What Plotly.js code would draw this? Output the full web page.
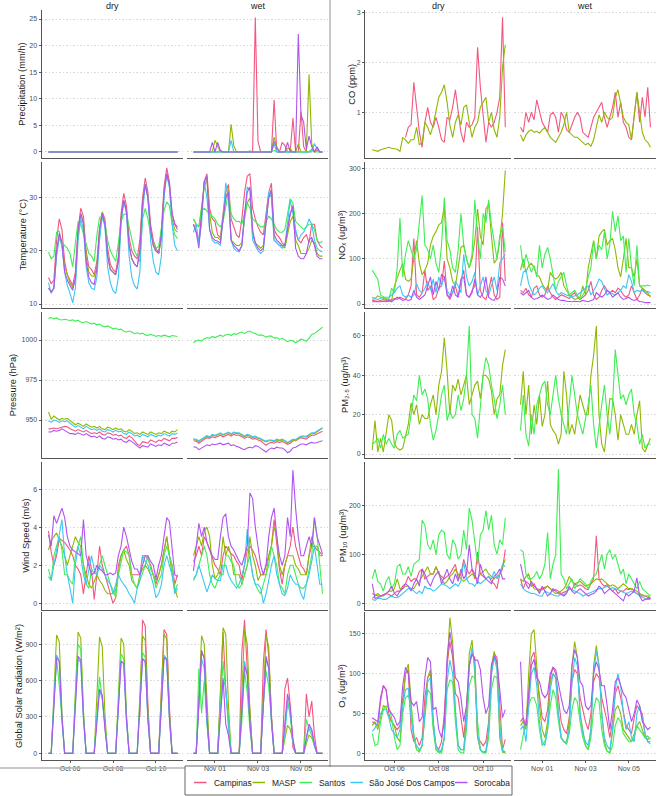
<!DOCTYPE html>
<html><head><meta charset="utf-8">
<script src="https://cdn.plot.ly/plotly-3.0.1.min.js"></script>
<style>html,body{margin:0;padding:0;background:#fff}#chart{width:661px;height:796px}</style>
</head><body><div id="chart"></div>
<script>
// ---------------- DATA ----------------
const stations = ["Campinas","MASP","Santos","São José Dos Campos","Sorocaba"];
const stationColors = ["#F2577F","#8FB803","#3FEE55","#3EC6F2","#B054F0"];
const periods = ["dry","wet"];
const dryTickVals = ["2019-10-06","2019-10-08","2019-10-10"];
const dryTickText = ["Oct 06","Oct 08","Oct 10"];
const wetTickVals = ["2019-11-01","2019-11-03","2019-11-05"];
const wetTickText = ["Nov 01","Nov 03","Nov 05"];

const dryTimes = [
"2019-10-05 00:00","2019-10-05 03:00","2019-10-05 06:00","2019-10-05 09:00","2019-10-05 12:00","2019-10-05 15:00","2019-10-05 18:00","2019-10-05 21:00",
"2019-10-06 00:00","2019-10-06 03:00","2019-10-06 06:00","2019-10-06 09:00","2019-10-06 12:00","2019-10-06 15:00","2019-10-06 18:00","2019-10-06 21:00",
"2019-10-07 00:00","2019-10-07 03:00","2019-10-07 06:00","2019-10-07 09:00","2019-10-07 12:00","2019-10-07 15:00","2019-10-07 18:00","2019-10-07 21:00",
"2019-10-08 00:00","2019-10-08 03:00","2019-10-08 06:00","2019-10-08 09:00","2019-10-08 12:00","2019-10-08 15:00","2019-10-08 18:00","2019-10-08 21:00",
"2019-10-09 00:00","2019-10-09 03:00","2019-10-09 06:00","2019-10-09 09:00","2019-10-09 12:00","2019-10-09 15:00","2019-10-09 18:00","2019-10-09 21:00",
"2019-10-10 00:00","2019-10-10 03:00","2019-10-10 06:00","2019-10-10 09:00","2019-10-10 12:00","2019-10-10 15:00","2019-10-10 18:00","2019-10-10 21:00",
"2019-10-11 00:00"];
const wetTimes = [
"2019-10-31 00:00","2019-10-31 03:00","2019-10-31 06:00","2019-10-31 09:00","2019-10-31 12:00","2019-10-31 15:00","2019-10-31 18:00","2019-10-31 21:00",
"2019-11-01 00:00","2019-11-01 03:00","2019-11-01 06:00","2019-11-01 09:00","2019-11-01 12:00","2019-11-01 15:00","2019-11-01 18:00","2019-11-01 21:00",
"2019-11-02 00:00","2019-11-02 03:00","2019-11-02 06:00","2019-11-02 09:00","2019-11-02 12:00","2019-11-02 15:00","2019-11-02 18:00","2019-11-02 21:00",
"2019-11-03 00:00","2019-11-03 03:00","2019-11-03 06:00","2019-11-03 09:00","2019-11-03 12:00","2019-11-03 15:00","2019-11-03 18:00","2019-11-03 21:00",
"2019-11-04 00:00","2019-11-04 03:00","2019-11-04 06:00","2019-11-04 09:00","2019-11-04 12:00","2019-11-04 15:00","2019-11-04 18:00","2019-11-04 21:00",
"2019-11-05 00:00","2019-11-05 03:00","2019-11-05 06:00","2019-11-05 09:00","2019-11-05 12:00","2019-11-05 15:00","2019-11-05 18:00","2019-11-05 21:00",
"2019-11-06 00:00"];

// Precipitation (mm/h)
const precipDryAll = [0,0,0,0,0,0,0,0,0, 0,0,0,0,0,0,0,0, 0,0,0,0,0,0,0,0, 0,0,0,0,0,0,0,0, 0,0,0,0,0,0,0,0, 0,0,0,0,0,0,0,0];
const precipWetCAM = [0,0,0,0,0,0,0,0,0, 0,0.3,0,0,0,0,0,0, 0,0,0,0,0,0,25.3,2, 0,0,0,0,0,9.8,0,0, 1.8,1.2,0,0,6.4,0,0,7.6, 1,0,0,0.5,0,0.3,0,0];
const precipWetMASP = [0,0,0,0,0,0,0,0,2.2, 1.2,0,0,0,0,5.2,1.2,0, 0,0,0,0,0,0,0,0, 0,0,0,0,0,2.8,1,0, 0,0,0.7,0.6,0,0,1.5,0, 0,0,14.6,1.5,0,0.8,0,0];
const precipWetSAN = [0,0,0,0,0,0,0,0,0, 0,0,0,0,0,0,0,0, 0,0,0,0,0,0,0,0, 0,0,0,0,0,0.3,0,0, 0,0,0,0,0,0,0,0, 0,0,0,0.4,0,0,0,0];
const precipWetSJC = [0,0,0,0,0,0,0,0,0, 0,0,0,0,0,2.2,0,0, 0,0,0,0,0.2,0,0,0, 0,0,0,0,0,1.5,0,0, 0,0,0,0,0,0,0,0, 0,0,0,0,1.6,0.5,0,0];
const precipWetSOR = [0,0,0,0,0,0,0,1.8,0, 1.8,0.3,0,0,0,0,0,0, 0,0,0,0,0,0,0,0, 0,0,0,0,0,2,0.8,0, 0,0,1.8,0,0,0,22.2,7, 5.6,0.5,3,1,0,1,0,0];

// Temperature (°C)
const tempDryCAM = [15,13.8,14.5,22,26,24,18,15.5,14.5, 13.5,16,24,28,26.5,20,17,16.5, 15.5,18,24,27.3,26,20.5,17.5,16.5, 16,19,27,30.8,28.5,22.5,20,19, 18.5,22,30,33.7,31,25,22,20.5, 19.5,24,32,35.6,33,27,25,24.5];
const tempDryMASP = [13,12.3,13,19.5,23,21,17,15.5,14, 13,14.5,23,27,25.5,19,16,15.3, 15.2,17,24,27.3,25,19,16.5,16, 15.5,18,26,29.5,27.5,21,18.5,17.5, 17,20,29,32.5,30,24,21,20, 19.5,22,31,34.5,32,26,24,23.5];
const tempDrySAN = [19.8,18.5,19,23.5,23.7,21.5,21,20.5,19.5, 17,21.5,25.5,25,23,21,19.5,19, 18,23,26.3,26.5,25,22,20,19, 18,21.5,25.5,26.8,27,24.5,22,20, 19,18,26,28,26,23,21.5,20.5, 20.8,24,27.5,29.2,28.5,25,23,22.3];
const tempDrySJC = [14,12,13,19,22.5,21,16,13.5,12, 10.2,13,22,26,24,17,14,13, 12.7,15,22,26.5,24.5,17,14,12.5, 12,15,25,29.5,27,19,15,13.5, 12.8,16,27,32.5,30,22,18,16, 15.5,19,30,34.5,32,25,21,20];
const tempDrySOR = [13,12.2,13,20,23.3,21.5,16,14.5,13.5, 12.6,15,24,27,25,18,15,14, 13.7,16.5,24,27,25,19,16.5,16, 15.5,18,26,29.5,27.5,21,18.5,17.5, 17,20,29,32.5,30,24,21,20, 19.5,23,31,34.5,32.5,27,25,24];
const tempWetCAM = [25,23.5,22,27,33,34.5,28,26,25.5, 23,22.5,27,31,32.5,26,24.5,23, 22.5,26,31,34,34.5,28,26,24.5, 23.5,23,27,31,32.7,24,23,22.5, 21.5,21,24,27,28,23.5,22,21.5, 22.5,23,21.5,25,25,22,21,20.5];
const tempWetMASP = [26,25,24.5,28,32,33.5,27,23.5,22.5, 22.5,22,26,30,31.5,22,21.5,21, 21,21.5,26,29,30,23,21.5,21, 20.5,21,26,30,31.5,22,21.5,21, 21,20.5,23,25.5,26.5,22,21,19.5, 19.5,19.5,20.5,22,21.5,19.5,19,19];
const tempWetSAN = [26,25,24.5,27.5,28,27.5,27,26.5,26, 25,24.5,25.5,28,31,27,26,25.5, 25.5,25,27,29,28,26,25.5,25, 24.5,24.5,25.5,26.5,26,25,24,23.5, 23.5,24,27,29.8,29,25.5,25,24.5, 24,24.5,25,25,24,22,21.5,21.8];
const tempWetSJC = [23.5,25,21.5,25,33,30,24,22,21.5, 21.5,21,26,32.8,30,22,20.5,20, 19.8,21,27,32,31.5,22,21,20, 19.5,20,26,31,30,22,21.5,21, 20.5,21,25,29.5,27,24,22,23, 23.5,24.5,26,25,22,20.5,20,19.8];
const tempWetSOR = [25,23.5,20.5,26,33,34,24,22.5,22, 21.8,21.5,26,30,31,22,21,20.5, 20,21,27,31,32,24,21.5,20.5, 20,20.5,26,30,31.5,23,22,21.5, 21,21,24,27,28.5,20.5,19,18.5, 18.5,19.5,22,22.5,21,19,18.5,18.5];

// Pressure (hPa)
const presDryCAM = [944.3,944.5,945,944.5,944.8,945.5,946,945.8,944.5, 943.5,943,944,943,942.5,943.5,942.5,941.5, 942,941.5,942.5,941,940.5,942,941.5,940.5, 941,940,940.5,939,938.5,940,939,937, 935,934,936.5,936,935.5,937.5,936.5,936, 937.5,937,938.5,937.5,937,938.5,938.5,939];
const presDryMASP = [955,950.5,952.5,951.5,950,951,950.5,951,949.5, 948.5,947,948,947,946,947.5,946.5,945.5, 946,945,946,944.5,944,945.5,945,944, 945,944,944.5,943,942.5,944,943,941.5, 942,941,942.5,941.5,941,942.5,941.5,941, 942,941.5,943,942,941.5,943,942.5,944];
const presDrySAN = [1013.5,1014,1013.2,1013.8,1012.8,1012.5,1013,1012.6,1012.2, 1012.6,1011.8,1012.3,1011.2,1010.8,1011.5,1010.8,1010, 1010.5,1009.5,1010,1008.8,1008.2,1008.8,1008,1007, 1007.5,1006.5,1006.8,1005.5,1005,1005.6,1005,1004, 1004.5,1003.8,1004.3,1003.2,1002.8,1003.5,1003,1002.3, 1002.8,1002.3,1003,1002.5,1002,1002.8,1002.6,1002.2];
const presDrySJC = [949.5,948.5,950,949.5,948.5,949.5,949,949.5,948, 947,945.5,946.5,945.5,944.5,946,945,944, 944.5,943.5,944.5,943,942.5,944,943.5,942.5, 943.5,942.5,943,941.5,941,942.5,941.5,940, 940.5,939.5,941,940,939.5,941,940,939.5, 940.5,940,941.5,940.5,940,941.5,941,941.8];
const presDrySOR = [942.6,942.5,943.5,943,943.5,944.5,943.5,942.5,941.5, 941.5,941,942,941,940.5,941.5,940.5,939.5, 940,939,940,938.5,938,939.5,939,938, 938.5,937.5,938,936.5,936,937.5,936.5,935, 933.5,932.5,934,933.5,933,935,934,933.5, 934.5,934,935.5,934.5,934,935.5,935.5,936.3];
const presWetCAM = [937,936.8,935.5,936.8,938,939,938.5,939.5,939, 940,940.5,939.5,940.5,941,940,941,940.5, 940.5,939.5,938.5,939.5,939,938,938.5,937.5, 937,935.5,934.2,935.5,936,935.5,936.5,936, 936.5,935.8,934.8,935.5,937,937,938,939, 938.5,938,939.5,940.5,940.5,941.5,942.5,943];
const presWetMASP = [937.8,937.5,936.5,937.5,939,939.8,939,940.5,940, 941,941.5,940.5,941.5,942,941,942,941.5, 941.5,940.5,939.5,940.5,940,939,939.5,938.5, 938,937,936.3,937,937.2,936.5,937.5,937, 937.5,936.8,935.5,936.5,937.5,937.2,938.5,939.5, 939.5,939.2,940.5,941.5,941.5,942.5,944,945];
const presWetSAN = [998.3,999.5,1000,999.3,1000.8,1001.5,1001,1002.2,1001.5, 1002.5,1003,1002.2,1003.2,1003.6,1002.8,1004,1003.5, 1004.5,1005,1004,1005.2,1005.6,1004.5,1004,1003, 1003.2,1002.8,1001.8,1002.5,1002.4,1001.2,1001.5,1000.5, 1001,1000.2,999,999.8,999.5,998.3,999.5,1000.5, 1000,999.2,1001,1003.5,1004,1005.5,1007,1008];
const presWetSJC = [938.2,938,937,938,939.5,940.2,939.5,941,940.5, 941.5,942,941,942,942.5,941.5,942.5,942, 942,941,940,941,940.5,939.5,940,939, 938.5,937.5,936.8,937.5,937.5,937,938,937.5, 938,937.2,936,937,938,937.8,939,940, 940,939.8,941,942,942,943,944.5,945.2];
const presWetSOR = [933.2,933,931.5,932.5,934,934.5,934,935,934.5, 935,935.5,934.5,935,935.5,934,934.5,933.5, 933,932,931.5,932.5,933,932.5,934,933.5, 932.5,931,930,931.5,932.5,932,933,932.5, 932.5,931.5,929.5,930.5,932.5,933,934,935, 935,934.5,935.5,936,935.5,936,936.5,937];

// Wind speed (m/s)
const windDryCAM = [3.8,2.7,2,2.5,3.4,3.3,3.2,3,2.8, 2.5,2,1.8,1.5,0.5,1.5,2.5,1.8, 0.2,1.5,3,2,1.5,1,0.5,0, 0.3,2,2.5,2.8,3,2.5,1.5,1.5, 1.5,1.5,2.5,2.5,2.3,2,1.5,1, 1.5,2,2.8,3.5,2.5,2,1,1.5];
const windDryMASP = [2.8,3.3,3.5,3.7,3.3,3,2.5,2,2.5, 3,3.5,3.2,3,2,1.5,1,0.8, 1.2,1.5,1.2,1,0.7,0.5,0.5,0.5, 0.7,1.5,2.5,2.8,2.3,2,1.2,1, 0.8,1.5,1.8,2,1.8,1.5,1.5,1.2, 1.5,2,2.8,3.5,2.5,1.5,0.8,0.3];
const windDrySAN = [1.8,1.2,2.5,3,3.5,2.8,1.5,1.5,1.2, 1,2.5,3,3.5,2,1,0.8,1.8, 1.6,1.5,2,2.5,2,1.5,1,0.7, 0.3,1.5,2.2,2.8,2.7,2.5,1.5,1, 0.8,1.2,1.5,2,2.5,1.8,1.5,0.8, 1.2,1.5,2.5,3,2.5,2,0.6,1];
const windDrySJC = [1.4,1.2,2,2.8,3.5,4.4,2.5,1.5,0.8, 0,2,3,2.5,1.5,1,1.8,2.5, 1.8,1.5,2,1.8,1.5,1.2,1,0.5, 1,1.5,1.2,1,0.8,0.5,0.3,0, 0.8,1.2,2.5,2.2,2,1.5,1,0.3, 0.5,1,2,2.5,2,1.5,0.5,0.8];
const windDrySOR = [3.6,3,4.6,4.2,4.6,5,4.5,3.5,3, 2.8,2.7,2.6,2.5,4.4,2.5,2,1.5, 1.6,2,1.8,1.7,1.5,1.5,1.6,1.5, 1.6,2.5,3,4,3.5,2.8,2.2,1.8, 1.8,1.5,2,2.5,2.5,2.2,2,1.3, 2,2.5,3.5,4.5,4.3,3,1.5,1.4];
const windWetCAM = [2.2,2.5,3,2.5,3.5,3.2,2.8,2.4,2, 1.8,1.5,2.5,3,2.8,2.6,2.5,2.2, 2,1.2,2,2.8,3,2.8,2.5,2, 1.5,1.5,2,2.5,3,4.4,3,1.8, 1,2,2.5,3,4,3,2.5,2, 1.8,1.5,2.5,3,3,2.8,2.7,2.5];
const windWetMASP = [2.5,3,3.5,3,3.8,4,3.5,2,1.3, 1.5,2,3.5,2.5,3,2.5,1.5,1.5, 1.5,1,1.5,2,3.5,2.5,2,1.2, 1.5,1.5,1.5,2.5,3,4,3.5,2, 1.5,2,2.5,2.5,2.5,2,1.8,1.5, 1.5,1.5,2.5,3.5,3,3,2.5,2.5];
const windWetSAN = [1.2,1.5,2,2.5,3,2.5,1.5,1,0.8, 1.2,1.5,1.5,2.5,2.5,2.2,2,1, 0.8,1,1.5,2,2.5,1.5,1,0.7, 0.5,1,1.5,2,3,2.5,2,1, 0.8,0.5,1.5,2,2,1.5,1,0.8, 0.8,1,1.8,2.5,4.5,3.5,2,0.5];
const windWetSJC = [1.3,1.5,2,1.5,1,0.6,1,1.5,1.3, 1.2,1.2,2,2,1.5,1.2,1,0.8, 1,1.5,2,3.9,2.5,1.5,1,1, 0.8,0,0.5,1.2,2,2.5,1.5,1, 0.5,0.4,0.8,1.5,1.2,1,1,0.5, 0.2,1,1.5,2.2,3,2,1,1];
const windWetSOR = [1.7,2.8,4.2,3.5,4,3.2,2.8,2.5,2.3, 2.3,3.5,4.5,4.7,3.5,3,2.8,2.5, 2.2,2,2.5,3,5.8,5.5,4,3, 2,1.5,2,3.5,4.5,5,3.5,2.5, 2,2.5,4.5,3.5,7,5,3.5,2.5, 2.5,3,3.5,3,4.5,3.5,3,2.6];

// Global solar radiation (W/m2)
const radDryCAM = [null,null,null,null,null,null,null,null, null,null,null,null,null,null,null,null, null,null,null,null,null,null,null,null, null,null,null,null,null,null,null,null, null,null,300,1100,1050,400,0,0, 0,0,520,1020,980,380,0,0, 0];
const radDryMASP = [0,0,480,975,920,330,0,0, 0,0,500,1000,950,350,0,0, 0,0,470,960,880,320,0,0, 0,0,470,950,900,330,0,0, 0,0,480,970,930,340,0,0, 0,0,490,985,940,330,0,0, 0];
const radDrySAN = [0,0,400,780,560,280,0,0, 0,0,450,900,860,320,0,0, 0,0,320,630,450,220,0,0, 0,0,400,820,780,300,0,0, 0,0,410,830,790,290,0,0, 0,0,400,810,780,300,0,0, 0];
const radDrySJC = [0,0,420,810,760,280,0,0, 0,0,400,780,750,280,0,0, 0,0,300,520,450,200,0,0, 0,0,380,760,740,270,0,0, 0,0,390,780,750,270,0,0, 0,0,400,800,770,280,0,0, 0];
const radDrySOR = [0,0,380,790,760,290,0,0, 0,0,390,800,770,300,0,0, 0,0,245,530,480,200,0,0, 0,0,370,760,740,280,0,0, 0,0,380,780,760,290,0,0, 0,0,390,790,770,300,0,0, 0];
const radWetCAM = [0,0,400,820,800,300,0,0, 0,0,480,1000,530,250,0,0, 0,0,840,1100,700,300,0,0, 0,0,750,1020,800,320,0,0, 0,0,530,620,400,50,0,0, 0,0,490,300,430,150,0,0, 0];
const radWetMASP = [0,0,450,970,900,380,0,0, 0,0,500,1035,980,400,0,0, 0,0,480,1020,900,350,0,0, 0,0,460,970,880,300,0,0, 0,0,120,230,200,100,0,0, 0,0,80,150,130,60,0,0, 0];
const radWetSAN = [0,0,700,330,600,250,0,0, 0,0,400,760,500,300,0,0, 0,0,260,680,500,200,0,0, 0,0,400,680,550,250,0,0, 0,0,150,450,300,100,0,0, 0,0,280,200,150,60,0,0, 0];
const radWetSJC = [0,0,400,780,700,250,0,0, 0,0,320,600,550,200,0,0, 0,0,380,760,650,250,0,0, 0,0,400,780,700,250,0,0, 0,0,200,400,350,100,0,0, 0,0,120,220,180,60,0,0, 0];
const radWetSOR = [0,0,420,850,780,300,0,0, 0,0,300,620,240,150,0,0, 0,0,350,720,650,250,0,0, 0,0,400,800,700,280,0,0, 0,0,250,490,380,120,0,0, 0,0,130,240,200,80,0,0, 0];

// CO (ppm)
const coDryCAM = [null,null,null,null,null,null,null,null,null, null,null,null,0.5,0.7,0.75,1.6,1.1, 0.6,0.3,0.8,1.1,0.8,0.7,0.9,0.7, 0.45,0.4,0.9,0.85,1.1,1.45,1.0,0.6, 0.4,0.8,0.7,0.75,0.9,2.3,1.5,0.9, 0.4,0.8,0.7,0.8,1.0,1.3,2.9,0.7];
const coDryMASP = [0.25,0.23,0.22,0.25,0.27,0.28,0.3,0.28,0.27, 0.26,0.22,0.5,0.45,0.38,0.45,0.45,0.7, 0.35,0.4,0.8,0.7,0.55,0.75,1.0,1.3, 1.4,1.55,1.2,0.75,0.5,0.8,0.95,0.75, 1.1,1.15,0.8,0.5,0.7,0.8,1.1,1.2, 1.3,0.8,1.0,0.65,0.5,0.9,1.9,2.35];
const coWetCAM = [0.7,0.6,1.0,0.8,1.0,0.85,1.25,1.0,0.8, 0.7,0.6,0.95,1.0,0.9,0.6,1.0,0.9, 0.65,0.6,0.75,0.9,1.0,0.9,0.6,0.55, 0.5,0.7,0.9,1.0,1.1,1.2,0.9,0.7, 0.9,1.1,1.4,0.9,1.2,0.8,0.7,0.5, 0.45,0.9,1.4,0.8,1.3,0.9,1.5,0.7];
const coWetMASP = [0.55,0.42,0.55,0.62,0.65,0.6,0.62,0.58,0.65, 0.7,0.6,0.5,0.45,0.4,0.5,0.6,0.75, 1.0,0.6,0.55,0.5,0.5,0.45,0.4,0.35, 0.38,0.32,0.45,0.7,0.95,0.8,1.0,0.9, 0.85,0.9,1.3,1.45,1.2,0.9,0.8,0.75, 0.45,0.9,1.4,1.0,0.6,0.45,0.4,0.3];

// NOx (ug/m3)
const noxDryCAM = [8,7,6,8,10,8,6,10,12, 10,15,12,10,20,40,145,20, 15,25,75,30,40,10,15,35, 40,95,20,10,25,40,15,50, 75,20,15,30,40,170,30,15, 10,30,60,20,10,15,180,50];
const noxDryMASP = [15,12,18,15,12,10,10,8,40, 60,75,90,55,50,55,100,140, 90,65,75,90,130,150,160,175, 180,215,100,80,50,40,80,125, 130,100,80,100,140,210,150,130, 210,220,150,90,100,140,200,295];
const noxDrySAN = [75,65,55,20,15,12,10,35,25, 80,190,60,110,140,120,100,120, 175,240,130,120,100,130,90,70, 130,235,140,120,80,70,120,200, 130,100,80,110,230,150,100,200, 180,230,175,140,100,150,170,115];
const noxDrySJC = [10,12,10,12,15,15,15,20,25, 35,40,20,15,20,15,20,45, 30,25,35,50,30,55,25,60, 40,60,30,20,25,50,40,25, 110,60,40,50,70,20,40,60, 30,20,40,60,30,90,100,110];
const noxDrySOR = [5,5,4,5,6,5,8,5,10, 15,12,8,10,8,10,30,15, 10,15,20,40,60,20,50,30, 65,60,20,15,40,20,15,55, 60,20,15,25,55,20,15,25, 60,15,10,8,20,60,55,40];
const noxWetCAM = [30,25,35,20,15,35,40,20,15, 20,40,25,15,10,15,20,18, 15,12,20,25,15,10,15,20, 30,50,20,10,15,30,40,30, 25,30,25,35,30,20,15,20, 40,25,10,20,35,25,20,18];
const noxWetMASP = [75,100,70,85,90,80,65,60,45, 35,30,70,60,55,60,70,40, 30,20,15,10,12,15,40,20, 80,110,140,100,150,160,165,130, 140,145,120,80,60,100,145,80, 80,60,100,40,35,30,25,15];
const noxWetSAN = [130,80,110,90,70,85,60,130,80, 110,125,100,60,30,50,60,70, 40,20,25,30,20,10,20,30, 60,80,140,100,130,120,160,100, 130,205,160,195,140,150,70,145, 80,40,130,40,40,40,42,40];
const noxWetSJC = [40,70,75,45,30,20,25,35,40, 30,25,35,45,30,20,25,22, 20,18,15,18,20,25,30,35, 40,20,30,40,55,50,35,20, 25,22,20,25,30,40,35,65, 50,25,30,28,30,25,28,25];
const noxWetSOR = [25,20,25,30,15,10,12,15,20, 15,10,12,20,15,10,8,8, 6,5,5,6,5,5,8,6, 5,8,10,25,20,15,20,30, 25,15,20,25,15,10,12,15, 10,8,10,5,5,3,3,3];

// PM2.5 (ug/m3)
const pm25DryMASP = [2,17,1,8,1,12,20,17,5, 3,2,3,9,15,26,20,25, 15,20,18,18,25,30,20,35, 42,59,42,20,35,32,38,30, 35,40,25,30,35,37,28,40, 40,38,32,20,28,30,45,53];
const pm25DrySAN = [5,6,8,3,10,5,8,5,3, 10,12,8,9,10,20,30,27, 40,30,33,28,15,7,12,20, 30,35,17,22,18,20,30,22, 28,40,65,20,18,8,25,40, 49,45,35,28,18,25,35,20];
const pm25WetMASP = [25,42,20,35,10,25,15,30,14, 20,37,15,12,10,5,10,42, 30,10,15,10,20,30,25,20, 20,40,50,65,20,5,1,15, 28,28,20,7,20,15,10,10, 15,10,20,27,3,1,5,8];
const pm25WetSAN = [12,30,10,4,20,10,25,30,35, 37,25,20,30,40,28,20,15, 10,25,40,30,20,15,10,18, 25,35,15,3,15,25,35,20, 10,25,53,40,28,30,25,30, 33,20,15,5,10,3,5,5];

// PM10 (ug/m3)
const pm10DryCAM = [20,18,15,15,18,20,18,15,20, 25,25,35,40,55,45,50,50, 65,70,50,55,60,60,75,60, 55,50,55,60,70,80,50,60, 90,70,60,70,50,105,60,55, 50,55,45,40,30,60,70,110];
const pm10DryMASP = [10,15,20,15,15,20,25,25,30, 50,30,30,35,35,30,30,40, 45,55,65,75,60,60,75,60, 50,40,45,55,60,70,60,50, 45,50,55,60,55,50,60,65, 70,60,55,50,55,60,75,90];
const pm10DrySAN = [50,70,45,40,25,45,55,30,40, 75,80,60,60,75,55,80,85, 90,170,160,120,110,130,100,140, 150,145,100,90,130,120,90,100, 150,110,195,170,120,80,140,150, 190,150,180,120,100,130,120,175];
const pm10DrySJC = [8,6,10,10,8,8,12,15,12, 12,15,20,25,30,30,25,20, 25,20,35,30,30,25,28,35, 40,38,35,30,35,40,35,45, 85,50,40,40,35,45,40,45, 50,55,50,65,50,60,80,75];
const pm10DrySOR = [40,10,12,15,18,20,25,35,20, 15,25,30,40,35,25,40,50, 35,70,60,45,35,50,60,65, 40,55,70,50,40,60,45,70, 50,60,120,70,60,40,80,60, 50,45,40,55,60,70,50,50];
const pm10WetCAM = [50,30,45,40,35,40,30,28,30, 32,35,30,25,28,25,20,22, 25,30,28,40,35,38,35,30, 28,40,50,138,50,40,35,38, 30,25,30,20,25,25,30,28, 30,25,20,18,15,15,12,10];
const pm10WetMASP = [50,45,55,60,40,30,28,25,28, 30,35,30,25,20,22,25,30, 40,55,45,40,42,45,40,35, 38,40,45,50,48,50,45,40, 35,38,35,30,35,40,35,30, 30,28,25,20,18,15,15,12];
const pm10WetSAN = [110,105,60,50,50,55,65,50,60, 80,145,50,80,100,275,60,50, 30,40,50,30,40,50,45,40, 30,45,55,60,80,100,70,100, 110,90,100,80,60,70,40,60, 50,40,30,45,30,25,20,15];
const pm10WetSJC = [40,30,25,22,20,20,18,15,15, 25,22,20,18,15,15,20,18, 22,30,28,25,22,20,15,18, 20,22,25,28,30,30,32,35, 30,32,30,28,25,22,20,22, 25,22,20,15,12,10,8,8];
const pm10WetSOR = [80,55,40,30,45,35,30,20,35, 25,15,20,30,25,20,18,15, 20,35,25,20,25,30,25,20, 15,18,20,25,35,30,20,25, 30,25,20,15,10,5,20,15, 20,25,52,15,5,8,10,10];

// O3 (ug/m3)
const o3DryCAM = [40,38,35,65,85,80,50,40,35, 30,35,70,100,105,30,15,20, 10,20,70,95,100,35,10,5, 15,50,110,140,120,75,70,45, 20,55,110,125,120,20,15,10, 15,40,100,125,120,60,5,18];
const o3DryMASP = [35,40,30,45,60,58,45,40,35, 20,15,60,100,112,70,20,5, 3,10,50,95,105,40,5,2, 3,20,110,170,140,50,10,5, 5,50,125,142,100,20,5,2, 2,30,110,128,110,20,2,1];
const o3DrySAN = [25,10,12,40,55,60,58,45,20, 5,10,50,70,73,60,25,5, 2,10,50,80,75,30,5,1, 1,20,80,92,90,40,5,1, 1,30,85,97,95,40,5,1, 1,20,80,97,95,40,5,2];
const o3DrySJC = [28,32,40,50,55,55,45,30,25, 20,30,60,80,82,45,20,10, 5,10,55,90,95,40,10,3, 5,20,90,117,100,60,10,5, 5,40,110,133,110,25,5,2, 3,30,100,120,105,30,3,2];
const o3DrySOR = [45,43,40,70,85,80,55,50,45, 35,40,85,108,100,65,60,65, 40,45,95,120,115,55,58,30, 20,40,120,152,130,95,90,70, 40,60,110,125,117,117,105,70, 50,60,110,122,115,80,45,55];
const o3WetCAM = [40,45,35,80,120,127,100,70,45, 40,55,95,108,100,70,40,30, 25,45,90,105,100,70,55,40, 30,50,90,100,95,70,55,40, 20,40,75,85,70,50,35,30, 25,45,60,55,50,25,15,15];
const o3WetMASP = [35,40,30,100,150,155,110,60,30, 20,40,90,100,95,50,20,15, 12,40,110,140,120,50,30,10, 5,30,110,135,110,50,15,3, 1,25,55,60,50,30,25,20, 15,25,35,40,30,20,18,20];
const o3WetSAN = [5,25,40,60,70,70,60,30,10, 15,30,60,80,70,40,20,15, 12,25,55,70,65,40,20,10, 5,20,55,70,65,30,10,3, 1,10,35,45,40,25,20,15, 15,20,35,30,25,20,22,18];
const o3WetSJC = [30,35,15,60,100,108,85,40,15, 10,30,80,100,95,50,20,15, 15,30,90,120,110,50,25,15, 10,30,100,128,110,50,20,10, 5,30,80,100,85,50,30,40, 20,15,50,60,45,25,15,12];
const o3WetSOR = [115,40,35,70,110,118,95,90,75, 70,75,100,108,105,85,70,55, 50,60,110,130,120,90,85,60, 55,60,100,115,105,85,85,60, 30,55,90,95,85,75,70,55, 40,50,67,60,40,35,30,33];

// ---------------- PANELS ----------------
const panelDefs = [
  {side:"L", row:0, title:"Precipitation (mm/h)", tx:21.7, range:[-1.13,26.7], tickv:[0,5,10,15,20,25],
   dry:[precipDryAll,precipDryAll,precipDryAll,precipDryAll,precipDryAll],
   wet:[precipWetCAM,precipWetMASP,precipWetSAN,precipWetSJC,precipWetSOR]},
  {side:"L", row:1, title:"Temperature (°C)", tx:23.3, range:[9.25,36.7], tickv:[10,20,30],
   dry:[tempDryCAM,tempDryMASP,tempDrySAN,tempDrySJC,tempDrySOR],
   wet:[tempWetCAM,tempWetMASP,tempWetSAN,tempWetSJC,tempWetSOR]},
  {side:"L", row:2, title:"Pressure (hPa)", tx:13.3, range:[926.25,1017.5], tickv:[950,975,1000],
   dry:[presDryCAM,presDryMASP,presDrySAN,presDrySJC,presDrySOR],
   wet:[presWetCAM,presWetMASP,presWetSAN,presWetSJC,presWetSOR]},
  {side:"L", row:3, title:"Wind Speed (m/s)", tx:25.8, range:[-0.35,7.42], tickv:[0,2,4,6],
   dry:[windDryCAM,windDryMASP,windDrySAN,windDrySJC,windDrySOR],
   wet:[windWetCAM,windWetMASP,windWetSAN,windWetSJC,windWetSOR]},
  {side:"L", row:4, title:"Global Solar Radiation (W/m²)", tx:19, range:[-55,1165], tickv:[0,300,600,900],
   dry:[radDryCAM,radDryMASP,radDrySAN,radDrySJC,radDrySOR],
   wet:[radWetCAM,radWetMASP,radWetSAN,radWetSJC,radWetSOR]},
  {side:"R", row:0, title:"CO (ppm)", tx:351.7, range:[0.086,3.046], tickv:[1,2,3],
   dry:[coDryCAM,coDryMASP,null,null,null],
   wet:[coWetCAM,coWetMASP,null,null,null]},
  {side:"R", row:1, title:"NOₓ (ug/m³)", tx:341.7, range:[-8.8,313.9], tickv:[0,100,200,300],
   dry:[noxDryCAM,noxDryMASP,noxDrySAN,noxDrySJC,noxDrySOR],
   wet:[noxWetCAM,noxWetMASP,noxWetSAN,noxWetSJC,noxWetSOR]},
  {side:"R", row:2, title:"PM₂.₅ (ug/m³)", tx:345, range:[-2.03,72.1], tickv:[0,20,40,60],
   dry:[null,pm25DryMASP,pm25DrySAN,null,null],
   wet:[null,pm25WetMASP,pm25WetSAN,null,null]},
  {side:"R", row:3, title:"PM₁₀ (ug/m³)", tx:343.3, range:[-13.7,289.3], tickv:[0,100,200],
   dry:[pm10DryCAM,pm10DryMASP,pm10DrySAN,pm10DrySJC,pm10DrySOR],
   wet:[pm10WetCAM,pm10WetMASP,pm10WetSAN,pm10WetSJC,pm10WetSOR]},
  {side:"R", row:4, title:"O₃ (ug/m³)", tx:341.7, range:[-7.9,177.1], tickv:[0,50,100,150],
   dry:[o3DryCAM,o3DryMASP,o3DrySAN,o3DrySJC,o3DrySOR],
   wet:[o3WetCAM,o3WetMASP,o3WetSAN,o3WetSJC,o3WetSOR]}
];

// ---------------- LAYOUT ----------------
const W = 661, H = 796;
const colPx = {Ldry:[41.5,183], Lwet:[187,328], Rdry:[365,511], Rwet:[514,656]};
const rowPx = [[10,158],[162,308],[312,458],[462,610],[612,760]];
const xRanges = {dry:["2019-10-04 16:10","2019-10-11 06:10"], wet:["2019-10-30 16:45","2019-11-06 06:10"]};
const FONT = "Liberation Sans, Arial, Helvetica, DejaVu Sans, sans-serif";
const px = v => v / W, py = v => 1 - v / H;

const traces = [];
const layout = {
  width: W, height: H, margin:{l:0,r:0,t:0,b:0},
  paper_bgcolor:"#fff", plot_bgcolor:"#fff", showlegend:false,
  font:{family:FONT, color:"#222"},
  annotations:[], shapes:[]
};

let n = 0;
panelDefs.forEach(p => {
  periods.forEach(per => {
    n++;
    const xa = n === 1 ? "x" : "x" + n, ya = n === 1 ? "y" : "y" + n;
    const xk = n === 1 ? "xaxis" : "xaxis" + n, yk = n === 1 ? "yaxis" : "yaxis" + n;
    const cp = colPx[p.side + per];
    const rp = rowPx[p.row];
    const isDry = per === "dry", isBottom = p.row === 4;
    p[per].forEach((arr, si) => {
      if (!arr) return;
      traces.push({type:"scatter", mode:"lines", x: isDry ? dryTimes : wetTimes, y: arr,
        xaxis: xa, yaxis: ya, name: stations[si], connectgaps:false,
        line:{color: stationColors[si], width:1.1}, hoverinfo:"skip", showlegend:false});
    });
    layout[xk] = {domain:[px(cp[0]), px(cp[1])], anchor: ya, type:"date", range: xRanges[per],
      showgrid:false, zeroline:false, showline:true, linecolor:"#555", linewidth:1,
      tickmode:"array", tickvals: isDry ? dryTickVals : wetTickVals, ticktext: isDry ? dryTickText : wetTickText,
      showticklabels: isBottom, ticks: isBottom ? "outside" : "", ticklen:2, tickcolor:"#555",
      tickfont:{size:7, color:"#4d4d4d", family:FONT}, fixedrange:true};
    layout[yk] = {domain:[py(rp[1]), py(rp[0])], anchor: xa, range: p.range,
      tickmode:"array", tickvals: p.tickv,
      showgrid:true, gridcolor:"#cfcfcf", griddash:"1.5px,2px", gridwidth:0.8, zeroline:false,
      showline: isDry, linecolor:"#555", linewidth:1,
      ticks: isDry ? "outside" : "", ticklen:2, tickcolor:"#555", showticklabels: isDry,
      tickfont:{size:7, color:"#4d4d4d", family:FONT}, fixedrange:true};
    if (p.row === 0) {
      layout.annotations.push({text: per, x: px((cp[0]+cp[1])/2), y: py(6.5), xref:"paper", yref:"paper",
        xanchor:"center", yanchor:"middle", showarrow:false, font:{size:9, color:"#1a1a1a", family:FONT}});
    }
  });
  layout.annotations.push({text: p.title, x: px(p.tx), y: py((rowPx[p.row][0]+rowPx[p.row][1])/2),
    xref:"paper", yref:"paper", xanchor:"center", yanchor:"middle", textangle:-90, showarrow:false,
    font:{size:9.3, color:"#1a1a1a", family:FONT}});
});

// frame lines
layout.shapes.push({type:"line", xref:"paper", yref:"paper", x0:px(330), x1:px(330), y0:py(0), y1:py(767), line:{color:"#b5b5b5", width:1.5}});
layout.shapes.push({type:"line", xref:"paper", yref:"paper", x0:px(0), x1:px(185), y0:py(768), y1:py(768), line:{color:"#b5b5b5", width:1.5}});
// legend box
layout.shapes.push({type:"rect", xref:"paper", yref:"paper", x0:px(185), x1:px(512), y0:py(795), y1:py(766), line:{color:"#666", width:1}, fillcolor:"rgba(0,0,0,0)"});
const legendPx = [[194,206.5,211.5],[252.5,265,270],[299.5,312,316.5],[350.5,363,366.5],[455,467.5,471.5]];
stations.forEach((s, i) => {
  const lp = legendPx[i];
  layout.shapes.push({type:"line", xref:"paper", yref:"paper", x0:px(lp[0]), x1:px(lp[1]), y0:py(782.5), y1:py(782.5), line:{color:stationColors[i], width:1.5}});
  layout.annotations.push({text:s, x:px(lp[2]), y:py(782.5), xref:"paper", yref:"paper", xanchor:"left", yanchor:"middle",
    showarrow:false, font:{size:8.4, color:"#1a1a1a", family:FONT}});
});

Plotly.newPlot("chart", traces, layout, {displayModeBar:false, staticPlot:true});
</script>
</body></html>
